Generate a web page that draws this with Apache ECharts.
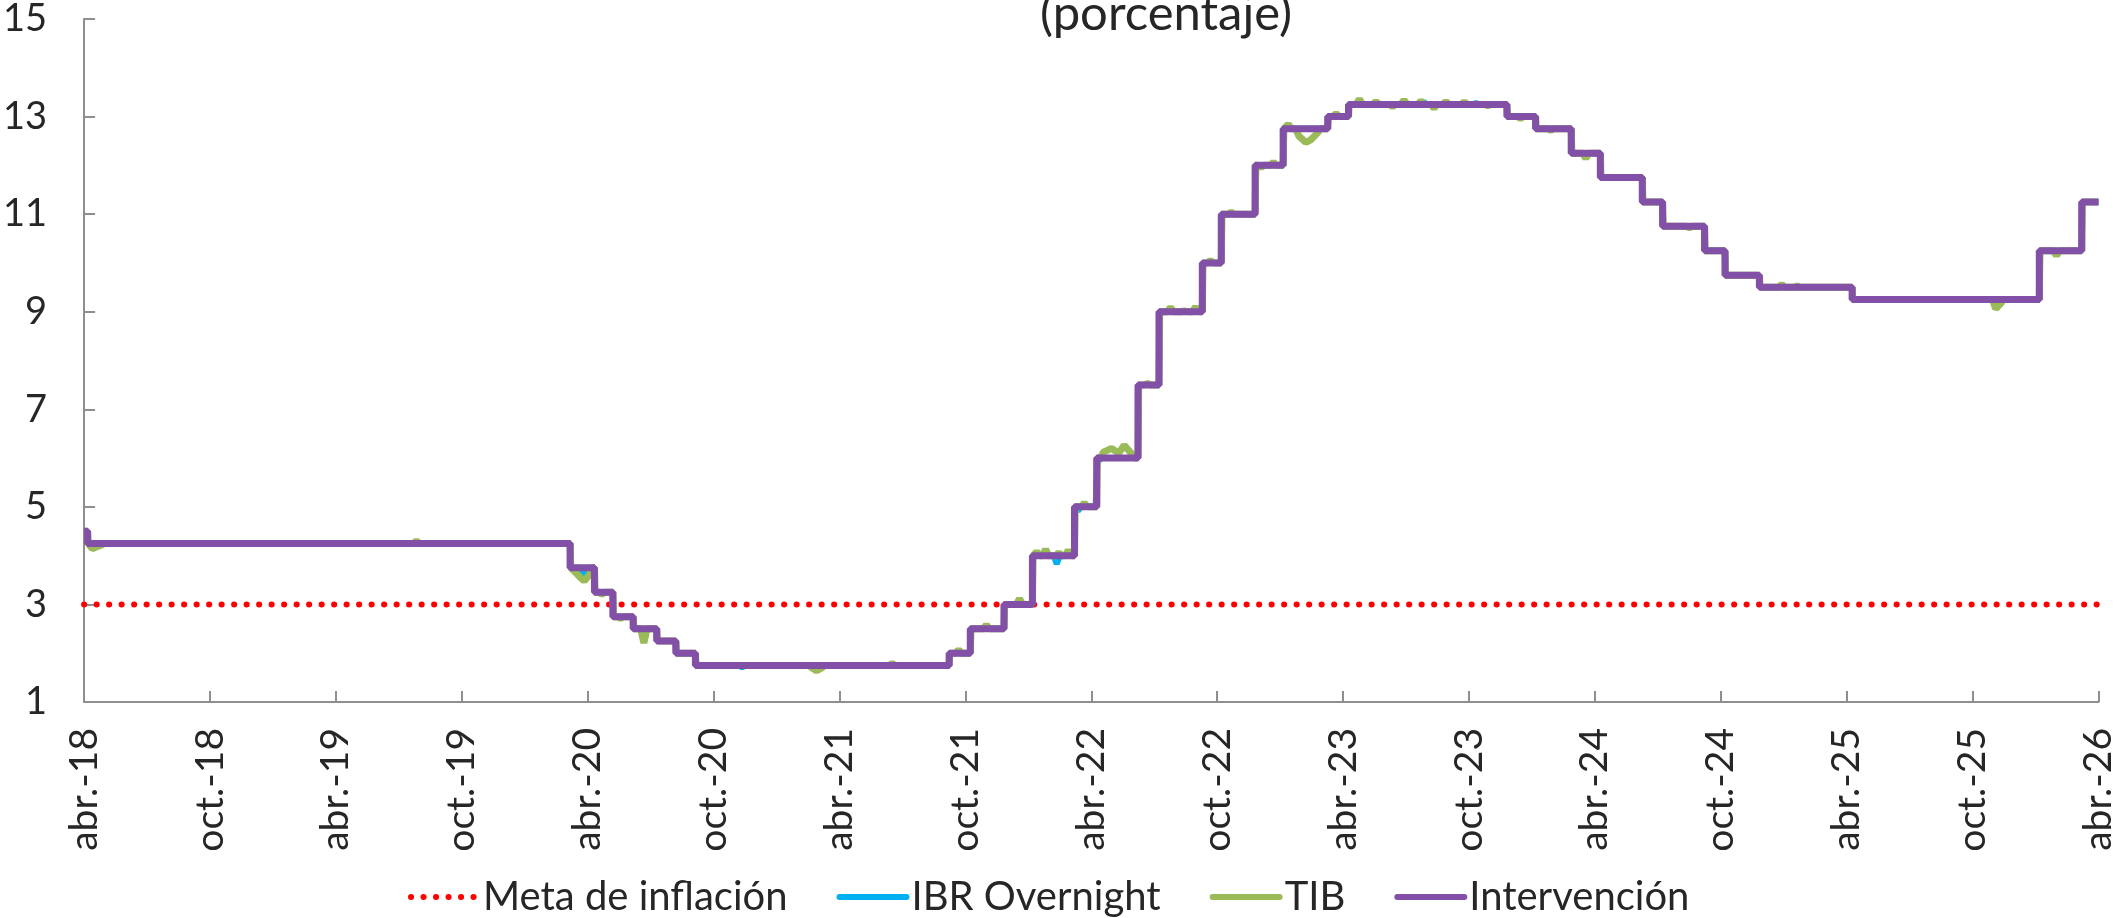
<!DOCTYPE html>
<html>
<head>
<meta charset="utf-8">
<title>Tasas de interés</title>
<script src="https://cdn.jsdelivr.net/npm/echarts@6/dist/echarts.min.js"></script>
<style>
html, body { margin: 0; padding: 0; background: #fff; }
#chart { width: 2118px; height: 918px; }
</style>
</head>
<body>
<div id="chart"></div>
<script>
var etiquetasX = ['abr.-18', 'oct.-18', 'abr.-19', 'oct.-19', 'abr.-20', 'oct.-20', 'abr.-21', 'oct.-21',
  'abr.-22', 'oct.-22', 'abr.-23', 'oct.-23', 'abr.-24', 'oct.-24', 'abr.-25', 'oct.-25', 'abr.-26'];
var metaInflacion = 3;
var fechaFin = '2026-04-25';

// tasa de intervencion: fecha en que empieza cada nivel
var intervFechas = ['2018-04-25', '2018-04-30', '2020-03-30', '2020-05-04', '2020-06-01', '2020-06-30',
  '2020-08-03', '2020-09-01', '2020-09-29', '2021-10-01', '2021-11-02', '2021-12-20', '2022-01-31',
  '2022-04-01', '2022-05-02', '2022-07-01', '2022-08-01', '2022-10-03', '2022-10-31', '2022-12-19',
  '2023-02-01', '2023-04-03', '2023-05-02', '2023-12-19', '2024-02-01', '2024-03-21', '2024-05-02',
  '2024-07-02', '2024-08-01', '2024-10-01', '2024-11-01', '2024-12-20', '2025-05-02', '2026-02-02',
  '2026-04-01'];
var intervTasas = [4.5, 4.25, 3.75, 3.25, 2.75, 2.5, 2.25, 2.0, 1.75, 2.0, 2.5, 3.0, 4.0, 5.0, 6.0, 7.5,
  9.0, 10.0, 11.0, 12.0, 12.75, 13.0, 13.25, 13.0, 12.75, 12.25, 11.75, 11.25, 10.75, 10.25, 9.75, 9.5,
  9.25, 10.25, 11.25];

// TIB: puntos donde se separa de la tasa de intervencion
var tibFechas = ['2018-05-06', '2018-05-12', '2018-05-20', '2019-08-20', '2020-04-06', '2020-04-14',
  '2020-04-20', '2020-04-27', '2020-05-15', '2020-06-12', '2020-07-15', '2021-03-15', '2021-03-22',
  '2021-03-30', '2021-07-10', '2021-10-15', '2021-11-25', '2022-01-12', '2022-02-08', '2022-02-20',
  '2022-03-08', '2022-03-22', '2022-04-15', '2022-05-12', '2022-05-24', '2022-06-04', '2022-06-12',
  '2022-06-22', '2022-07-15', '2022-08-18', '2022-09-08', '2022-09-24', '2022-10-15', '2022-11-15',
  '2022-12-28', '2023-01-15', '2023-02-08', '2023-02-22', '2023-03-01', '2023-03-08', '2023-03-18',
  '2023-04-15', '2023-05-18', '2023-06-12', '2023-07-05', '2023-07-22', '2023-08-16', '2023-09-05',
  '2023-09-22', '2023-10-18', '2023-11-22', '2024-01-08', '2024-02-22', '2024-04-12', '2024-09-10',
  '2025-01-22', '2025-02-15', '2025-11-28', '2025-12-04', '2026-02-25'];
var tibValores = [4.14, 4.18, 4.22, 4.3, 3.68, 3.56, 3.48, 3.6, 3.21, 2.71, 2.21, 1.7, 1.64, 1.7,
  1.79, 2.07, 2.58, 3.12, 4.08, 4.13, 4.06, 4.11, 5.08, 6.12, 6.2, 6.1, 6.26, 6.1,
  7.53, 9.09, 9.02, 9.1, 10.05, 11.04, 11.96, 12.06, 12.84, 12.6, 12.47, 12.52, 12.66, 13.06, 13.36,
  13.31, 13.2, 13.34, 13.32, 13.17, 13.31, 13.3, 13.22, 12.96, 12.72, 12.14, 10.72, 9.56, 9.53,
  9.06, 9.16, 10.15];

// IBR overnight: puntos donde se separa de la tasa de intervencion
var ibrFechas = ['2018-05-10', '2020-04-20', '2020-12-05', '2021-03-22', '2022-03-05', '2022-04-06',
  '2022-05-05', '2023-08-20', '2023-11-05', '2025-12-01'];
var ibrValores = [4.2, 3.5, 1.71, 1.68, 3.83, 4.92, 5.95, 13.3, 13.28, 9.14];

var fuente = 'Lato';
var colorTexto = '#262626';
var colorEje = '#8f8f8f';

// meses desde el inicio del eje (abr.-18)
function mes(f) {
  var p = f.split('-'), y = +p[0], m = +p[1], d = +p[2];
  var dias = new Date(y, m, 0).getDate();
  return (y - 2018) * 12 + (m - 4) + (d - 25) / dias;
}

// nivel de intervencion vigente en x
function nivel(x) {
  var v = intervTasas[0];
  for (var i = 0; i < intervFechas.length; i++) {
    if (mes(intervFechas[i]) <= x) v = intervTasas[i];
  }
  return v;
}

var datosInterv = [];
for (var i = 0; i < intervFechas.length; i++) {
  datosInterv.push([mes(intervFechas[i]), intervTasas[i]]);
}
datosInterv.push([mes(fechaFin), intervTasas[intervTasas.length - 1]]);

// serie de mercado = niveles de intervencion (un dia de rezago) mas sus desviaciones
function serieMercado(fechas, valores) {
  var pts = [];
  for (var i = 0; i < intervFechas.length; i++) {
    var x0 = mes(intervFechas[i]) + (i > 0 ? 0.035 : 0);
    var x1 = i + 1 < intervFechas.length ? mes(intervFechas[i + 1]) : mes(fechaFin);
    pts.push([x0, intervTasas[i]], [x1, intervTasas[i]]);
  }
  for (var j = 0; j < fechas.length; j++) {
    var x = mes(fechas[j]);
    var antes = j > 0 ? mes(fechas[j - 1]) : -1e9;
    var despues = j + 1 < fechas.length ? mes(fechas[j + 1]) : 1e9;
    if (x - antes > 0.4) pts.push([x - 0.15, nivel(x - 0.15)]);
    pts.push([x, valores[j]]);
    if (despues - x > 0.4) pts.push([x + 0.15, nivel(x + 0.15)]);
  }
  pts.sort(function (a, b) { return a[0] - b[0]; });
  return pts;
}

var chart = echarts.init(document.getElementById('chart'));
chart.setOption({
  animation: false,
  title: {
    text: '(porcentaje)',
    left: 1161,
    top: -15,
    textAlign: 'center',
    textStyle: { fontFamily: fuente, fontSize: 49, fontWeight: 'normal', color: colorTexto }
  },
  grid: { left: 77, right: 18, top: 16, bottom: 216 },
  legend: {
    left: 403,
    top: 872,
    itemWidth: 67,
    itemHeight: 4,
    itemGap: 49,
    textStyle: { fontFamily: fuente, fontSize: 40, color: colorTexto },
    itemStyle: { opacity: 0 },
    lineStyle: { width: 6, cap: 'round' },
    data: ['Meta de inflación', 'IBR Overnight', 'TIB', 'Intervención']
  },
  xAxis: {
    type: 'value',
    min: 0,
    max: 96,
    interval: 6,
    axisLine: { lineStyle: { color: colorEje, width: 2 } },
    axisTick: { inside: true, length: 11, lineStyle: { color: colorEje, width: 2 } },
    splitLine: { show: false },
    axisLabel: {
      rotate: 90,
      margin: 26,
      showMinLabel: true,
      showMaxLabel: true,
      fontFamily: fuente,
      fontSize: 39,
      color: colorTexto,
      formatter: function (v) { return etiquetasX[Math.round(v / 6)]; }
    }
  },
  yAxis: {
    type: 'value',
    min: 1,
    max: 15,
    interval: 2,
    axisLine: { show: true, lineStyle: { color: colorEje, width: 2 } },
    axisTick: { show: true, inside: true, length: 11, lineStyle: { color: colorEje, width: 2 } },
    splitLine: { show: false },
    axisLabel: { margin: 37, fontFamily: fuente, fontSize: 38, color: colorTexto }
  },
  series: [
    {
      name: 'Meta de inflación',
      type: 'line',
      symbol: 'none',
      data: [[0, metaInflacion], [96, metaInflacion]],
      lineStyle: { color: '#ff0000', width: 6, type: [0.1, 12.4], cap: 'round' },
      itemStyle: { color: '#ff0000' }
    },
    {
      name: 'IBR Overnight',
      type: 'line',
      symbol: 'none',
      data: serieMercado(ibrFechas, ibrValores),
      lineStyle: { color: '#00b0f0', width: 6 },
      itemStyle: { color: '#00b0f0' }
    },
    {
      name: 'TIB',
      type: 'line',
      symbol: 'none',
      data: serieMercado(tibFechas, tibValores),
      lineStyle: { color: '#9bbb59', width: 7 },
      itemStyle: { color: '#9bbb59' }
    },
    {
      name: 'Intervención',
      type: 'line',
      symbol: 'none',
      step: 'end',
      data: datosInterv,
      lineStyle: { color: '#8350a8', width: 7 },
      itemStyle: { color: '#8350a8' }
    }
  ]
});
</script>
</body>
</html>
